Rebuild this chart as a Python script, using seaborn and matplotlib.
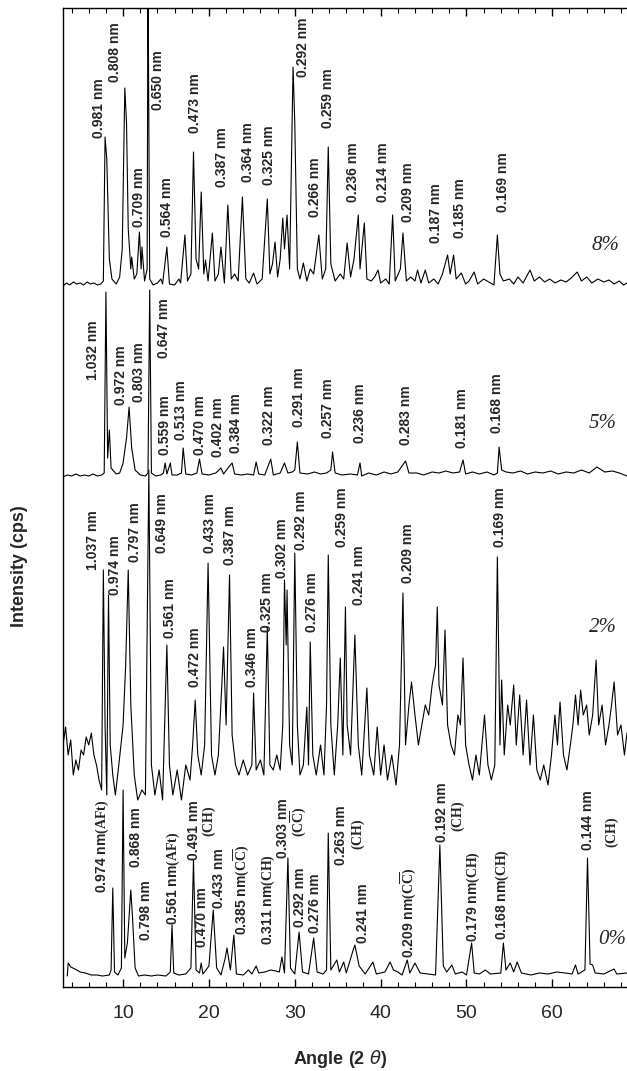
import numpy as np
import pandas as pd
import matplotlib
matplotlib.use("Agg")
import matplotlib.pyplot as plt
from matplotlib.ticker import MultipleLocator
import seaborn as sns

# XRD patterns: 2-theta (deg) and counts above each pattern's own baseline
theta_0 = [3.5, 3.6, 3.9, 4.4, 5.0, 5.6, 6.3, 7.0, 7.6, 8.4,
           8.6, 8.8, 9.0, 9.4, 9.8, 10.0, 10.2, 10.5, 10.9, 11.1,
           11.4, 11.8, 12.5, 13.3, 14.0, 15.0, 15.5, 15.7, 15.9, 16.5,
           17.3, 17.9, 18.2, 18.5, 18.9, 19.1, 19.3, 20.0, 20.5, 20.9,
           21.4, 21.9, 22.1, 22.5, 22.9, 23.2, 24.0, 24.6, 25.0, 25.5,
           25.8, 26.5, 27.2, 27.8, 28.2, 28.5, 28.8, 29.2, 29.5, 30.0,
           30.5, 30.9, 31.6, 32.2, 32.6, 33.3, 33.7, 33.9, 34.2, 34.9,
           35.2, 35.7, 36.0, 36.8, 37.0, 37.5, 38.2, 39.1, 39.5, 40.5,
           41.1, 41.5, 42.0, 42.5, 43.1, 43.4, 44.0, 44.6, 45.5, 46.4,
           46.9, 47.3, 47.7, 48.3, 48.7, 49.5, 50.0, 50.6, 50.9, 51.5,
           52.2, 52.8, 54.0, 54.3, 54.6, 55.1, 55.5, 55.9, 56.4, 57.5,
           58.5, 59.5, 60.5, 61.5, 62.3, 62.7, 63.0, 63.8, 64.1, 64.4,
           64.7, 65.0, 66.0, 67.2, 67.5, 68.7]
counts_0 = [2, 15, 11, 9, 6, 5, 3, 3, 2, 3,
            8, 90, 6, 3, 10, 188, 20, 35, 88, 60,
            10, 2, 3, 2, 3, 2, 6, 53, 5, 3,
            4, 10, 118, 8, 5, 15, 4, 12, 68, 10,
            3, 20, 30, 8, 43, 4, 3, 8, 4, 12,
            5, 6, 8, 7, 6, 21, 5, 120, 10, 4,
            46, 6, 4, 40, 6, 4, 8, 145, 8, 18,
            6, 16, 5, 28, 33, 12, 4, 16, 4, 6,
            16, 8, 6, 3, 18, 5, 15, 5, 4, 3,
            133, 12, 6, 13, 4, 6, 3, 35, 5, 4,
            8, 4, 5, 35, 8, 15, 6, 16, 5, 3,
            5, 4, 6, 5, 4, 13, 4, 8, 120, 14,
            13, 5, 4, 9, 4, 5]

theta_2 = [3.0, 3.3, 3.6, 3.9, 4.2, 4.5, 4.8, 5.1, 5.4, 5.7,
           6.0, 6.3, 6.6, 6.9, 7.2, 7.5, 7.7, 7.9, 8.1, 8.3,
           8.5, 8.8, 9.1, 9.5, 10.0, 10.3, 10.6, 10.9, 11.3, 11.7,
           12.2, 12.6, 13.0, 13.3, 13.7, 14.2, 14.6, 15.1, 15.4, 15.8,
           16.3, 16.8, 17.3, 17.8, 18.1, 18.4, 18.7, 19.1, 19.5, 19.9,
           20.3, 20.7, 21.1, 21.5, 21.7, 22.0, 22.4, 22.7, 23.1, 23.5,
           24.0, 24.5, 25.0, 25.2, 25.5, 26.0, 26.4, 26.8, 27.1, 27.5,
           27.9, 28.3, 28.6, 28.8, 29.0, 29.1, 29.4, 29.7, 30.0, 30.3,
           30.6, 31.0, 31.4, 31.6, 31.8, 32.1, 32.5, 33.0, 33.4, 33.7,
           33.9, 34.2, 34.6, 35.0, 35.3, 35.6, 35.9, 36.1, 36.5, 37.0,
           37.4, 37.8, 38.4, 38.7, 39.2, 39.6, 40.0, 40.4, 40.8, 41.3,
           41.8, 42.2, 42.6, 42.9, 43.3, 43.6, 44.0, 44.4, 44.8, 45.2,
           45.6, 46.0, 46.4, 46.6, 46.8, 47.2, 47.5, 47.8, 48.2, 48.6,
           49.0, 49.3, 49.6, 49.9, 50.3, 50.7, 51.1, 51.5, 51.8, 52.1,
           52.5, 52.9, 53.3, 53.6, 53.9, 54.1, 54.4, 54.8, 55.1, 55.5,
           55.8, 56.2, 56.6, 57.0, 57.4, 57.8, 58.2, 58.6, 59.0, 59.5,
           59.9, 60.3, 60.6, 60.9, 61.3, 61.7, 62.1, 62.4, 62.7, 63.0,
           63.3, 63.6, 64.0, 64.3, 64.7, 65.1, 65.4, 65.8, 66.2, 66.6,
           66.9, 67.2, 67.6, 68.0, 68.4, 68.7]
counts_2 = [40, 58, 30, 45, 10, 25, 15, 35, 30, 48,
            40, 52, 30, 20, 5, -5, 215, 60, -10, 190,
            40, 10, -10, 20, 60, 120, 215, 80, 10, -15,
            -5, -10, 315, 20, -10, 15, -15, 140, 20, -10,
            15, -15, 20, 5, 40, 85, 30, 10, 40, 222,
            30, 10, 30, 100, 138, 60, 210, 50, 20, 10,
            25, 10, 20, 92, 15, 25, 10, 158, 20, 15,
            30, 15, 60, 205, 140, 195, 40, 20, 232, 60,
            10, 20, 78, 20, 143, 30, 10, 40, 10, 80,
            230, 60, 10, 60, 127, 30, 178, 60, 30, 150,
            40, 10, 97, 30, 10, 58, 10, 40, 5, 30,
            0, 40, 192, 40, 80, 103, 70, 40, 60, 80,
            70, 100, 120, 178, 100, 80, 155, 60, 40, 30,
            70, 60, 127, 40, 20, 5, 30, 10, 40, 70,
            20, 5, 20, 228, 40, 105, 30, 80, 60, 100,
            40, 90, 30, 85, 20, 70, 15, 5, 20, 0,
            30, 70, 40, 83, 30, 15, 40, 60, 90, 60,
            95, 70, 80, 50, 70, 125, 60, 80, 40, 60,
            80, 103, 50, 60, 30, 52]

theta_5 = [3.0, 3.5, 4.0, 4.5, 5.0, 5.5, 6.0, 6.5, 7.0, 7.5,
           7.8, 8.0, 8.2, 8.4, 8.6, 9.2, 9.6, 10.0, 10.4, 10.7,
           11.0, 11.4, 12.0, 12.6, 12.9, 13.1, 13.3, 13.8, 14.4, 14.7,
           14.9, 15.1, 15.5, 15.7, 16.3, 16.8, 17.0, 17.3, 18.0, 18.6,
           18.9, 19.2, 20.0, 20.8, 21.4, 21.7, 22.4, 22.7, 23.0, 23.8,
           24.5, 25.2, 25.5, 25.8, 26.5, 27.2, 27.5, 28.3, 28.8, 29.2,
           29.7, 30.0, 30.3, 30.6, 31.5, 32.3, 33.0, 33.7, 34.2, 34.4,
           34.7, 35.5, 36.5, 37.3, 37.6, 37.8, 38.6, 39.5, 40.4, 41.2,
           42.0, 42.9, 43.3, 44.2, 45.0, 46.0, 46.8, 47.6, 48.4, 49.2,
           49.6, 49.9, 50.7, 51.5, 52.4, 53.2, 53.6, 53.8, 54.1, 54.6,
           55.4, 56.3, 57.1, 58.0, 58.9, 59.8, 60.7, 61.6, 62.5, 63.4,
           64.3, 65.2, 66.1, 67.0, 67.8, 68.7]
counts_5 = [1, 3, 2, 4, 2, 3, 2, 4, 2, 3,
            5, 186, 20, 48, 10, 4, 5, 15, 40, 71,
            30, 8, 3, 2, 5, 188, 5, 2, 3, 5,
            15, 4, 15, 3, 3, 5, 30, 4, 3, 5,
            19, 4, 3, 5, 10, 4, 12, 15, 4, 3,
            4, 3, 16, 4, 3, 19, 3, 5, 15, 5,
            6, 8, 36, 5, 4, 6, 4, 5, 8, 26,
            5, 3, 4, 3, 15, 2, 5, 3, 6, 4,
            6, 17, 5, 5, 3, 6, 5, 7, 5, 6,
            18, 4, 6, 4, 6, 3, 5, 31, 8, 6,
            5, 7, 4, 6, 5, 7, 4, 6, 5, 8,
            5, 11, 6, 7, 5, 2]

theta_8 = [3.0, 3.4, 3.8, 4.2, 4.6, 5.0, 5.4, 5.8, 6.2, 6.6,
           7.0, 7.4, 7.7, 7.9, 8.1, 8.4, 8.7, 9.2, 9.6, 9.9,
           10.2, 10.4, 10.6, 10.9, 11.0, 11.3, 11.6, 11.9, 12.1, 12.2,
           12.5, 12.8, 12.9, 13.1, 13.5, 14.0, 14.4, 14.6, 15.1, 15.4,
           16.0, 16.5, 16.7, 17.2, 17.5, 17.9, 18.2, 18.5, 18.8, 19.1,
           19.4, 19.6, 19.9, 20.4, 20.7, 21.1, 21.4, 21.8, 22.2, 22.6,
           23.0, 23.4, 23.9, 24.3, 24.7, 25.2, 25.6, 26.2, 26.8, 27.1,
           27.4, 27.7, 28.0, 28.3, 28.6, 28.8, 29.1, 29.4, 29.8, 30.0,
           30.3, 30.6, 31.0, 31.4, 31.8, 32.2, 32.8, 33.2, 33.6, 33.9,
           34.2, 34.7, 35.3, 35.7, 36.1, 36.5, 36.9, 37.4, 37.6, 38.1,
           38.4, 38.9, 39.3, 39.7, 40.0, 40.6, 41.0, 41.4, 41.7, 42.3,
           42.6, 43.0, 43.5, 44.0, 44.3, 44.7, 45.2, 45.6, 46.2, 46.7,
           47.2, 47.8, 48.1, 48.5, 48.8, 49.4, 49.9, 50.3, 50.9, 51.3,
           52.0, 52.8, 53.2, 53.6, 53.9, 54.3, 55.0, 55.5, 56.0, 56.6,
           57.4, 57.9, 58.5, 59.1, 59.7, 60.3, 61.0, 61.6, 62.2, 62.9,
           63.4, 64.0, 64.6, 65.3, 66.0, 66.6, 67.2, 67.8, 68.3, 68.7]
counts_8 = [3, 6, 4, 7, 5, 6, 4, 7, 5, 6,
            4, 5, 8, 152, 130, 30, 10, 5, 12, 40,
            201, 166, 60, 20, 32, 10, 15, 57, 20, 42,
            8, 20, 320, 10, 4, 6, 10, 5, 42, 5,
            4, 10, 6, 54, 8, 15, 137, 30, 20, 97,
            15, 29, 8, 56, 8, 15, 42, 6, 84, 10,
            15, 8, 92, 10, 6, 16, 5, 10, 90, 15,
            25, 47, 12, 30, 71, 40, 74, 20, 222, 166,
            20, 10, 26, 8, 20, 15, 54, 10, 20, 142,
            25, 8, 15, 10, 46, 12, 30, 74, 20, 66,
            10, 8, 12, 19, 6, 10, 5, 74, 8, 20,
            56, 8, 12, 8, 19, 6, 19, 6, 10, 5,
            15, 34, 15, 34, 10, 16, 5, 8, 17, 5,
            10, 6, 4, 54, 15, 8, 10, 5, 12, 6,
            19, 8, 12, 7, 10, 6, 9, 7, 11, 17,
            8, 12, 6, 10, 7, 9, 5, 8, 4, 6]

samples = ["0%", "2%", "5%", "8%"]

# vertical stacking of the four patterns
offsets = {"0%": 9, "2%": 202, "5%": 509, "8%": 698}

# d-spacing annotations: (2-theta, bottom of text, label)
labels_8 = [(7.2, 849, "0.981 nm"), (9.1, 905, "0.808 nm"), (11.8, 760, "0.709 nm"),
            (14.1, 877, "0.650 nm"), (15.1, 750, "0.564 nm"), (18.4, 854, "0.473 nm"),
            (21.5, 800, "0.387 nm"), (24.5, 805, "0.364 nm"), (27.0, 802, "0.325 nm"),
            (31.0, 910, "0.292 nm"), (32.3, 770, "0.266 nm"), (33.9, 859, "0.259 nm"),
            (36.8, 785, "0.236 nm"), (40.3, 785, "0.214 nm"), (43.2, 765, "0.209 nm"),
            (46.4, 744, "0.187 nm"), (49.3, 749, "0.185 nm"), (54.2, 775, "0.169 nm")]
labels_5 = [(6.5, 607, "1.032 nm"), (9.7, 582, "0.972 nm"), (11.9, 585, "0.803 nm"),
            (14.8, 629, "0.647 nm"), (14.9, 532, "0.559 nm"), (16.8, 547, "0.513 nm"),
            (19.0, 532, "0.470 nm"), (21.0, 530, "0.402 nm"), (23.1, 534, "0.384 nm"),
            (27.0, 542, "0.322 nm"), (30.5, 560, "0.291 nm"), (33.9, 549, "0.257 nm"),
            (37.6, 544, "0.236 nm"), (42.9, 542, "0.283 nm"), (49.5, 539, "0.181 nm"),
            (53.6, 554, "0.168 nm")]
labels_2 = [(6.5, 417, "1.037 nm"), (9.1, 392, "0.974 nm"), (11.4, 425, "0.797 nm"),
            (14.5, 434, "0.649 nm"), (15.5, 349, "0.561 nm"), (18.4, 300, "0.472 nm"),
            (20.1, 434, "0.433 nm"), (22.5, 422, "0.387 nm"), (25.0, 300, "0.346 nm"),
            (26.8, 355, "0.325 nm"), (28.5, 409, "0.302 nm"), (30.7, 437, "0.292 nm"),
            (32.0, 355, "0.276 nm"), (35.5, 440, "0.259 nm"), (37.5, 382, "0.241 nm"),
            (43.2, 404, "0.209 nm"), (53.9, 440, "0.169 nm")]
labels_0 = [(7.6, 94, r"0.974 nm$\mathbf{(AFt)}$"), (11.5, 120, "0.868 nm"),
            (12.7, 47, "0.798 nm"), (15.9, 62, r"0.561 nm$\mathbf{(AFt)}$"),
            (18.3, 127, "0.491 nm"), (20.1, 150, r"$\mathbf{(CH)}$"),
            (19.2, 40, "0.470 nm"), (21.2, 79, "0.433 nm"),
            (23.8, 52, r"0.385 nm$\mathbf{(C\overline{C})}$"),
            (26.9, 42, r"0.311 nm$\mathbf{(CH)}$"),
            (28.6, 129, "0.303 nm"), (30.4, 150, r"$\mathbf{(C\overline{C})}$"),
            (30.6, 60, "0.292 nm"), (32.4, 54, "0.276 nm"),
            (35.4, 122, "0.263 nm"), (37.4, 137, r"$\mathbf{(CH)}$"),
            (37.9, 44, "0.241 nm"), (43.2, 29, r"0.209 nm$\mathbf{(C\overline{C})}$"),
            (47.2, 145, "0.192 nm"), (49.0, 155, r"$\mathbf{(CH)}$"),
            (50.8, 45, r"0.179 nm$\mathbf{(CH)}$"), (54.2, 47, r"0.168 nm$\mathbf{(CH)}$"),
            (64.2, 137, "0.144 nm"), (67.0, 139, r"$\mathbf{(CH)}$")]

# sample tags: (2-theta, centre height)
tag_pos = {"8%": (66.2, 742), "5%": (65.9, 564), "2%": (65.9, 359), "0%": (67.0, 47)}

sns.set_style("ticks")
plt.rcParams["font.family"] = ["Liberation Sans", "DejaVu Sans"]
plt.rcParams["mathtext.fontset"] = "custom"
plt.rcParams["mathtext.rm"] = "Liberation Serif"
plt.rcParams["mathtext.bf"] = "Liberation Serif:bold"

frames = []
for name, th, ct in zip(samples, [theta_0, theta_2, theta_5, theta_8],
                        [counts_0, counts_2, counts_5, counts_8]):
    frames.append(pd.DataFrame({"two_theta": th,
                                "intensity": np.array(ct) + offsets[name],
                                "sample": name}))
df = pd.concat(frames, ignore_index=True)

fig = plt.figure(figsize=(6.27, 10.71), dpi=100)
ax = fig.add_axes([63 / 627, 84 / 1071, 564 / 627, 979 / 1071])

sns.lineplot(data=df, x="two_theta", y="intensity", units="sample", estimator=None,
             color="black", lw=0.8, sort=False, ax=ax)

ax.set_xlim(3, 68.7)
ax.set_ylim(0, 979)

for lab_list in [labels_8, labels_5, labels_2, labels_0]:
    for x, y, txt in lab_list:
        ax.text(x, y, txt, rotation=90, ha="center", va="bottom",
                fontsize=10, fontweight="bold")

for name, (x, y) in tag_pos.items():
    ax.text(x, y, name, ha="center", va="center", fontsize=15,
            fontstyle="italic", family="Liberation Serif")

ax.set_xticks(range(10, 61, 10))
ax.xaxis.set_minor_locator(MultipleLocator(2))
ax.tick_params(axis="x", which="both", direction="in", top=True, bottom=True,
               labelsize=14, pad=13, color="black")
ax.tick_params(axis="x", which="major", length=6, width=1)
ax.tick_params(axis="x", which="minor", length=3.5, width=0.8)
ax.set_yticks([])

for side in ["left", "top", "bottom"]:
    ax.spines[side].set_linewidth(1.0)
    ax.spines[side].set_color("black")
ax.spines["right"].set_visible(False)

ax.set_xlabel(r"Angle (2 $\theta$)", fontsize=13, fontweight="bold")
ax.set_ylabel("Intensity (cps)", fontsize=13, fontweight="bold")
ax.xaxis.set_label_coords(0.491, -0.062)
ax.yaxis.set_label_coords(-0.062, 0.43)

fig.savefig("out.png", dpi=100)
